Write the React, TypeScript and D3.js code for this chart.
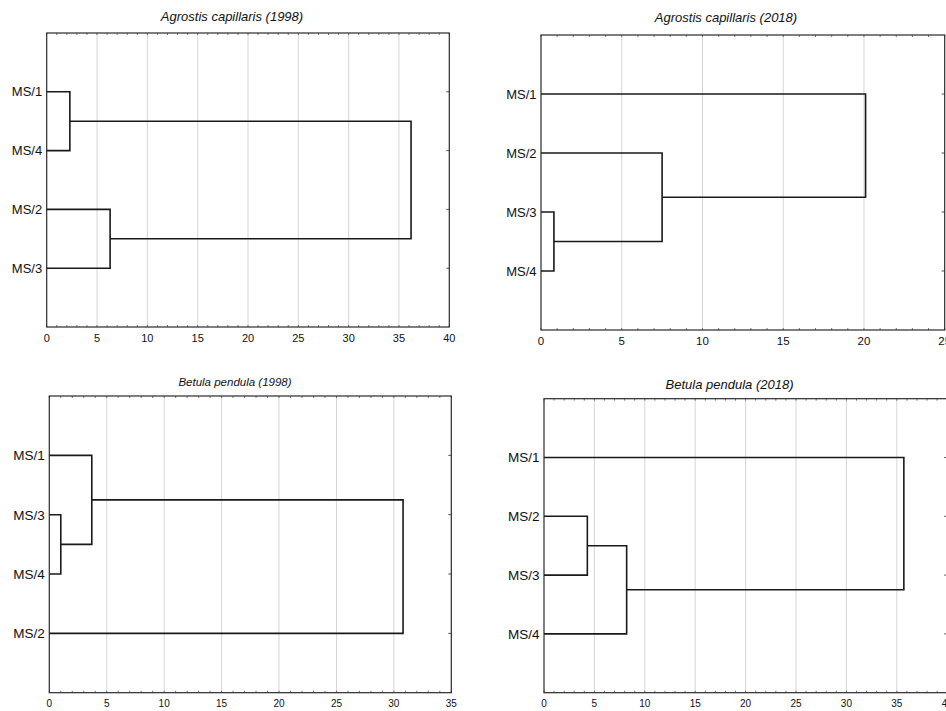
import React from "react";
import * as d3 from "d3";

// ---- data ----
const titles = [
  "Agrostis capillaris (1998)",
  "Agrostis capillaris (2018)",
  "Betula pendula (1998)",
  "Betula pendula (2018)",
];
const leavesA1998 = ["MS/1", "MS/4", "MS/2", "MS/3"];
const leavesA2018 = ["MS/1", "MS/2", "MS/3", "MS/4"];
const leavesB1998 = ["MS/1", "MS/3", "MS/4", "MS/2"];
const leavesB2018 = ["MS/1", "MS/2", "MS/3", "MS/4"];
// linkage rows: [clusterA, clusterB, linkage distance]; leaves are 0..3 in display order, new clusters 4,5,6
const linkA1998 = [[0, 1, 2.3], [2, 3, 6.3], [4, 5, 36.2]];
const linkA2018 = [[2, 3, 0.8], [1, 4, 7.5], [0, 5, 20.1]];
const linkB1998 = [[1, 2, 1.0], [0, 4, 3.7], [5, 3, 30.8]];
const linkB2018 = [[1, 2, 4.3], [4, 3, 8.2], [0, 5, 35.7]];
const xMaxes = [40, 25, 35, 40];

// ---- layout ----
const layouts = [
  { left: 46.7, right: 449.3, top: 33, bottom: 327, titleX: 232, titleY: 21, titleSize: 13, labelSize: 13, tickSize: 11, tickDy: 15 },
  { left: 541, right: 944.7, top: 35, bottom: 330, titleX: 726, titleY: 22, titleSize: 13, labelSize: 13, tickSize: 11.5, tickDy: 15 },
  { left: 49.3, right: 451.3, top: 396, bottom: 692.7, titleX: 235, titleY: 385.5, titleSize: 11.5, labelSize: 13.5, tickSize: 10, tickDy: 14.3 },
  { left: 544, right: 947.2, top: 398.7, bottom: 692.7, titleX: 729.5, titleY: 389, titleSize: 13, labelSize: 13.5, tickSize: 10, tickDy: 14.3 },
];

const panels = [
  { leaves: leavesA1998, links: linkA1998 },
  { leaves: leavesA2018, links: linkA2018 },
  { leaves: leavesB1998, links: linkB1998 },
  { leaves: leavesB2018, links: linkB2018 },
];

const FONT = "'Liberation Sans', Arial, Helvetica, sans-serif";

function Panel({ idx }: { idx: number }) {
  const L = layouts[idx];
  const { leaves, links } = panels[idx];
  const xMax = xMaxes[idx];
  const x = d3.scaleLinear().domain([0, xMax]).range([L.left, L.right]);
  const y = d3.scaleLinear().domain([0, leaves.length + 1]).range([L.top, L.bottom]);

  const nodeY: number[] = leaves.map((_, i) => y(i + 1));
  const nodeH: number[] = leaves.map(() => 0);
  const paths: string[] = [];
  links.forEach(([a, b, h]) => {
    const ya = nodeY[a], yb = nodeY[b];
    const p = d3.path();
    p.moveTo(x(nodeH[a]), ya);
    p.lineTo(x(h), ya);
    p.lineTo(x(h), yb);
    p.lineTo(x(nodeH[b]), yb);
    paths.push(p.toString());
    nodeY.push((ya + yb) / 2);
    nodeH.push(h);
  });

  const major = d3.range(0, xMax + 0.001, 5);
  const minor = d3.range(0, xMax + 0.001, 1);

  return (
    <g>
      <text x={L.titleX} y={L.titleY} textAnchor="middle" fontStyle="italic" fontSize={L.titleSize} fontFamily={FONT} fill="#111">
        {titles[idx]}
      </text>
      {/* grid */}
      {major.filter((v) => v > 0 && v < xMax).map((v) => (
        <line key={"g" + v} x1={x(v)} x2={x(v)} y1={L.top} y2={L.bottom} stroke="#d6d6d6" strokeWidth={1} />
      ))}
      {/* minor ticks top/bottom */}
      {minor.map((v) => (
        <g key={"m" + v}>
          <line x1={x(v)} x2={x(v)} y1={L.top} y2={L.top + 2} stroke="#555" strokeWidth={0.8} />
          <line x1={x(v)} x2={x(v)} y1={L.bottom} y2={L.bottom - 2} stroke="#555" strokeWidth={0.8} />
        </g>
      ))}
      {/* right ticks */}
      {leaves.map((_, i) => (
        <line key={"r" + i} x1={L.right} x2={L.right - 3} y1={y(i + 1)} y2={y(i + 1)} stroke="#555" strokeWidth={1} />
      ))}
      {/* frame */}
      <rect x={L.left} y={L.top} width={L.right - L.left} height={L.bottom - L.top} fill="none" stroke="#2a2a2a" strokeWidth={1.2} />
      {/* dendrogram */}
      {paths.map((d, i) => (
        <path key={"p" + i} d={d} fill="none" stroke="#1a1a1a" strokeWidth={1.6} />
      ))}
      {/* leaf labels */}
      {leaves.map((lab, i) => (
        <text key={"l" + i} x={L.left - 4.5} y={y(i + 1)} dy="0.36em" textAnchor="end" fontSize={L.labelSize} fontFamily={FONT} fill="#111">
          {lab}
        </text>
      ))}
      {/* x tick labels */}
      {major.map((v) => (
        <text key={"t" + v} x={x(v)} y={L.bottom + L.tickDy} textAnchor="middle" fontSize={L.tickSize} fontFamily={FONT} fill="#111">
          {v}
        </text>
      ))}
    </g>
  );
}

export default function App() {
  return (
    <svg width={946} height={711} style={{ position: "absolute", left: 0, top: 0, background: "#fff" }}>
      <rect x={0} y={0} width={946} height={711} fill="#fff" />
      {[0, 1, 2, 3].map((i) => (
        <Panel key={i} idx={i} />
      ))}
    </svg>
  );
}
